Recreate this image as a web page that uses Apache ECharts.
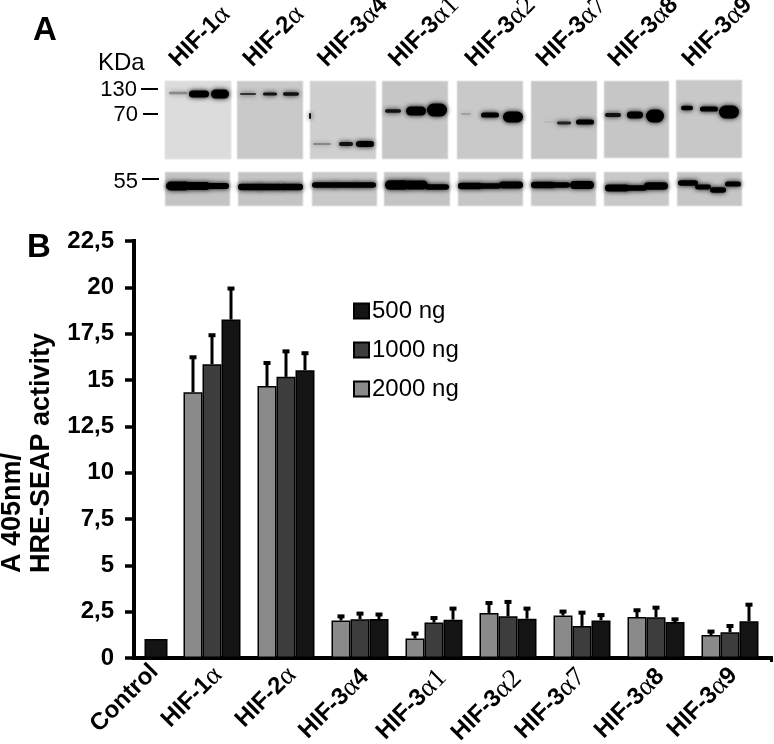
<!DOCTYPE html>
<html>
<head>
<meta charset="utf-8">
<style>
  html, body { margin: 0; padding: 0; background: #fff; }
  #mainChart { width: 774px; height: 744px; }
</style>
<script src="https://cdn.jsdelivr.net/npm/echarts@6/dist/echarts.min.js"></script>
</head>
<body>
<div id="mainChart"></div>
<script>
  var categories = ['HIF-1α', 'HIF-2α', 'HIF-3α4', 'HIF-3α1', 'HIF-3α2', 'HIF-3α7', 'HIF-3α8', 'HIF-3α9'];
  var controlValue = [1.03];
  var values2000 = [14.34, 14.68, 2.03, 1.05, 2.43, 2.29, 2.21, 1.24];
  var values1000 = [15.85, 15.17, 2.09, 1.91, 2.25, 1.73, 2.20, 1.39];
  var values500 = [18.26, 15.53, 2.10, 2.07, 2.12, 2.03, 1.94, 1.98];
  var errors2000 = [16.28, 15.97, 2.30, 1.37, 3.02, 2.56, 2.63, 1.48];
  var errors1000 = [17.47, 16.60, 2.45, 2.21, 3.08, 2.50, 2.77, 1.78];
  var errors500 = [19.99, 16.50, 2.40, 2.72, 2.72, 2.37, 2.14, 2.93];

  var BAR_WIDTH = 19;
  var LABEL_SIZE = 24;
  var SANS = '"Liberation Sans", Arial, sans-serif';
  var SERIF = '"Liberation Serif", serif';

  // HIF labels: the alpha and some digits are set thin in the original
  function labelRich (size) {
    return {
      b: {fontFamily: SANS, fontWeight: 'bold', fontSize: size, color: '#000'},
      a: {fontFamily: SERIF, fontWeight: 'normal', fontSize: size + 3, color: '#000'}
    };
  }
  function labelText (name) {
    var parts = name.split('α');
    if (parts.length < 2) return '{b|' + name + '}';
    var tail = parts[1];
    var thin = tail === '1' || tail === '2' || tail === '7';
    return '{b|' + parts[0] + '}{a|α' + (thin ? tail : '') + '}' + (tail && !thin ? '{b|' + tail + '}' : '');
  }

  // western blot panels, hand placed
  // top row: [x, y, w, h, bg], bands: [cx, cy, rx, ry, colour]
  var topPanels = [
    [165, 81, 66, 78, '#dcdcdc', [[178, 93, 9, 1.2, '#888'], [199, 94, 10, 3.5, '#000'], [220, 94, 9, 4.6, '#000']]],
    [237, 81, 66, 78, '#c9c9c9', [[248, 94, 8, 1, '#333'], [270, 94, 7, 1.5, '#111'], [291, 94, 8, 1.8, '#111']]],
    [310, 81, 66, 78, '#cfcfcf', [[310, 116, 1, 3, '#111'], [322, 144, 9, 1.1, '#888'], [346, 144, 7, 2, '#111'], [365, 144, 9, 3, '#000']]],
    [382, 81, 66, 78, '#c6c6c6', [[393, 111, 8, 1.8, '#111'], [416, 111, 10, 4.6, '#000'], [437, 110, 10, 6.4, '#000']]],
    [457, 81, 66, 78, '#c9c9c9', [[466, 114, 5, 0.8, '#999'], [490, 115, 9, 2.6, '#000'], [513, 117, 10, 5.4, '#000']]],
    [531, 81, 66, 78, '#c6c6c6', [[550, 122, 6, 0.6, '#b0b0b0'], [564, 123, 7, 1.4, '#222'], [585, 122, 9, 2.6, '#000']]],
    [604, 81, 65, 77, '#c6c6c6', [[613, 115, 8, 2, '#111'], [635, 115, 8, 3.4, '#000'], [655, 116, 9, 6.5, '#000']]],
    [676, 80, 66, 78, '#c8c8c8', [[687, 108, 6, 2.2, '#000'], [709, 109, 9, 2.6, '#000'], [729, 112, 10, 6.4, '#000']]]
  ];
  // bottom row: same shape, a band per lane, lanes overlap into a strip
  var bottomPanels = [
    [165, 172, 65, 34, '#c4c4c4', [[178, 186, 12, 4.4, '#000'], [198, 186, 12, 4, '#000'], [218, 186, 11, 3, '#000']]],
    [238, 172, 65, 34, '#c4c4c4', [[250, 187, 12, 3.2, '#000'], [270, 187, 12, 3.2, '#000'], [291, 187, 12, 3.2, '#000']]],
    [312, 172, 65, 34, '#c8c8c8', [[324, 185, 12, 2.8, '#000'], [345, 185, 12, 2.8, '#000'], [365, 185, 11, 2.8, '#000']]],
    [384, 172, 66, 34, '#c4c4c4', [[397, 185, 12, 4.8, '#000'], [416, 185, 12, 4.4, '#000'], [437, 187, 12, 2.8, '#000']]],
    [458, 172, 65, 34, '#c6c6c6', [[470, 186, 12, 3.2, '#000'], [490, 186, 11, 2.8, '#000'], [511, 185, 12, 3.4, '#000']]],
    [531, 172, 65, 34, '#c8c8c8', [[543, 185, 12, 3.2, '#000'], [561, 185, 9, 2.8, '#000'], [582, 185, 12, 4, '#000']]],
    [604, 172, 65, 34, '#c8c8c8', [[617, 188, 12, 3.4, '#000'], [636, 188, 11, 2.8, '#000'], [656, 186, 12, 3.8, '#000']]],
    [677, 172, 65, 34, '#c6c6c6', [[688, 183, 10, 2.8, '#000'], [703, 187, 8, 2.4, '#000'], [718, 190, 8, 2.8, '#000'], [733, 184, 8, 2.6, '#000']]]
  ];

  function blotElements (panels) {
    var els = [];
    panels.forEach(function (p) {
      els.push({
        type: 'rect', silent: true,
        shape: {x: p[0], y: p[1], width: p[2], height: p[3]},
        style: {fill: p[4], stroke: '#e6e6e6', lineWidth: 1}
      });
      p[5].forEach(function (b) {
        els.push({
          type: 'rect', silent: true,
          shape: {x: b[0] - b[2], y: b[1] - b[3], width: b[2] * 2, height: b[3] * 2, r: b[3]},
          style: {fill: b[4], shadowBlur: 5, shadowColor: b[4]}
        });
      });
    });
    return els;
  }

  function plainText (x, y, text, font, align) {
    return {
      type: 'text', silent: true, x: x, y: y,
      style: {text: text, font: font, fill: '#000', align: align || 'left', verticalAlign: 'middle'}
    };
  }

  var headerX = [173.5, 247.5, 322, 393, 469.5, 540.5, 612.5, 686.5];
  var headerLabels = categories.map(function (name, i) {
    return {
      type: 'text', silent: true, x: headerX[i], y: 63, rotation: Math.PI / 4,
      style: {text: labelText(name), rich: labelRich(LABEL_SIZE), align: 'left', verticalAlign: 'middle'}
    };
  });

  var kdaMarks = [[141, 158, 89], [143, 158, 114], [142, 159, 179]].map(function (m) {
    return {
      type: 'line', silent: true,
      shape: {x1: m[0], y1: m[2], x2: m[1], y2: m[2]},
      style: {stroke: '#000', lineWidth: 2}
    };
  });

  var graphicElements = []
    .concat(blotElements(topPanels))
    .concat(blotElements(bottomPanels))
    .concat(headerLabels)
    .concat(kdaMarks)
    .concat([
      plainText(33, 31, 'A', 'bold 33px ' + SANS),
      plainText(27, 248, 'B', 'bold 33px ' + SANS),
      plainText(98, 63, 'KDa', '24px ' + SANS),
      plainText(137, 90, '130', '22px ' + SANS, 'right'),
      plainText(138, 115, '70', '22px ' + SANS, 'right'),
      plainText(138, 182, '55', '22px ' + SANS, 'right'),
      {
        type: 'text', silent: true, x: -2, y: 573, rotation: Math.PI / 2,
        style: {
          text: 'A 405nm/\nHRE-SEAP activity', font: 'bold 27px ' + SANS, fill: '#000',
          align: 'left', verticalAlign: 'top', lineHeight: 29
        }
      },
      // stub of the x axis past the last category
      {type: 'rect', silent: true, shape: {x: 766, y: 656, width: 7, height: 4}, style: {fill: '#000'}},
      {type: 'rect', silent: true, shape: {x: 770, y: 656, width: 3, height: 6}, style: {fill: '#000'}}
    ]);

  function errorSeries (name, tops, bars, offset) {
    return {
      name: name,
      type: 'custom',
      xAxisIndex: 1,
      yAxisIndex: 1,
      z: 1,
      data: tops.map(function (t, i) { return [i, t, bars[i]]; }),
      encode: {x: 0, y: 1},
      renderItem: function (params, api) {
        var top = api.coord([api.value(0), api.value(1)]);
        var base = api.coord([api.value(0), api.value(2)]);
        var x = top[0] + offset;
        return {
          type: 'group',
          children: [
            {type: 'line', shape: {x1: x, y1: base[1], x2: x, y2: top[1]}, style: {stroke: '#000', lineWidth: 3}},
            {type: 'rect', shape: {x: x - 3.5, y: top[1] - 1, width: 7, height: 4}, style: {fill: '#000'}}
          ]
        };
      }
    };
  }

  function barSeries (name, data, color) {
    return {
      name: name,
      type: 'bar',
      xAxisIndex: 1,
      yAxisIndex: 1,
      z: 2,
      barWidth: BAR_WIDTH,
      barGap: 0,
      data: data,
      itemStyle: {color: color, borderColor: '#000', borderWidth: 1.5}
    };
  }

  // labels sit a bit off their tick in the original, not all by the same amount
  var labelPadding = [[23, 3, 0, 0], [23, 3, 0, 0], [24, 5, 0, 0], [30, 3, 0, 0], [33, 3, 0, 0], [16, 9, 0, 0], [23, 5, 0, 0], [20, 5, 0, 0]];
  var categoryItems = categories.map(function (name, i) {
    return {value: name, textStyle: {padding: labelPadding[i]}};
  });

  var catLabel = {
    interval: 0,
    rotate: 45,
    margin: 3,
    verticalAlign: 'top',
    formatter: labelText,
    rich: labelRich(LABEL_SIZE),
    hideOverlap: false
  };
  var yCommon = {type: 'value', min: 0, max: 22.5, interval: 2.5, splitLine: {show: false}};

  var myChart = echarts.init(document.getElementById('mainChart'), null, {renderer: 'canvas'});
  myChart.setOption({
    animation: false,
    backgroundColor: '#fff',
    grid: [
      {left: 134, top: 241, width: 44, height: 417, outerBoundsMode: 'none'},
      {left: 175, top: 241, width: 592, height: 417, outerBoundsMode: 'none'}
    ],
    xAxis: [
      {
        type: 'category', gridIndex: 0,
        data: [{value: 'Control', textStyle: {padding: [8, 6, 0, 0]}}],
        axisTick: {show: false},
        axisLine: {lineStyle: {color: '#000', width: 4}},
        axisLabel: catLabel
      },
      {
        type: 'category', gridIndex: 1, data: categoryItems,
        axisTick: {show: false},
        axisLine: {lineStyle: {color: '#000', width: 4}},
        axisLabel: catLabel
      }
    ],
    yAxis: [
      Object.assign({}, yCommon, {
        gridIndex: 0,
        axisLine: {show: true, lineStyle: {color: '#000', width: 4, cap: 'square'}},
        axisTick: {show: true, length: 9, lineStyle: {color: '#000', width: 3.5}},
        axisLabel: {
          margin: 20,
          color: '#000',
          fontFamily: SANS,
          fontWeight: 'bold',
          fontSize: 24,
          padding: [3, 0, 0, 0],
          formatter: function (v) { return String(v).replace('.', ','); }
        }
      }),
      Object.assign({}, yCommon, {gridIndex: 1, show: false})
    ],
    legend: {
      data: ['500 ng', '1000 ng', '2000 ng'],
      orient: 'vertical',
      left: 353,
      top: 299,
      padding: 0,
      icon: 'rect',
      itemWidth: 15,
      itemHeight: 15,
      itemGap: 15,
      selectedMode: false,
      textStyle: {color: '#000', fontFamily: SANS, fontSize: 24, lineHeight: 22, padding: [0, 0, 0, -2]}
    },
    graphic: {elements: graphicElements},
    series: [
      {
        name: 'Control',
        type: 'bar',
        xAxisIndex: 0,
        yAxisIndex: 0,
        barWidth: 23,
        data: controlValue,
        itemStyle: {color: '#141414', borderColor: '#000', borderWidth: 1.5}
      },
      errorSeries('2000 ng error', errors2000, values2000, -BAR_WIDTH),
      errorSeries('1000 ng error', errors1000, values1000, 0),
      errorSeries('500 ng error', errors500, values500, BAR_WIDTH),
      barSeries('2000 ng', values2000, '#8a8a8a'),
      barSeries('1000 ng', values1000, '#3d3d3d'),
      barSeries('500 ng', values500, '#141414')
    ]
  });
</script>
</body>
</html>
